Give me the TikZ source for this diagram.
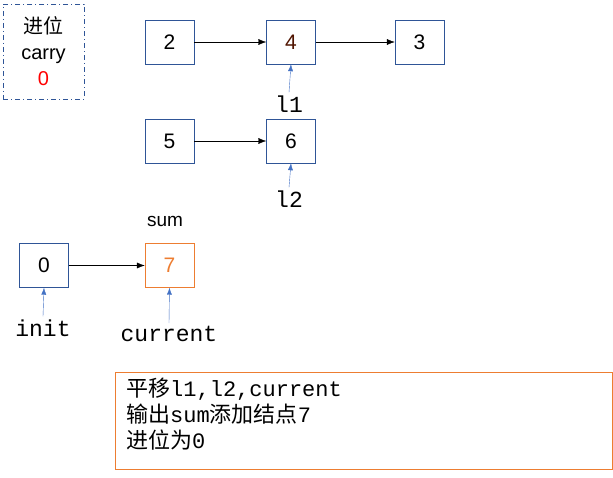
\documentclass[tikz,border=0pt]{standalone}
\usepackage{fontspec}
\setmainfont{Liberation Sans}
\newfontfamily\cjk{Noto Sans CJK SC}
\newfontfamily\mono{Liberation Mono}
\usetikzlibrary{arrows.meta}
\definecolor{bx}{HTML}{2F5597}
\definecolor{orng}{HTML}{ED7D31}
\definecolor{ptr}{HTML}{4472C4}
\begin{document}
\begin{tikzpicture}[x=1pt,y=-1pt,
 box/.style={draw=bx,minimum width=49pt,minimum height=44pt,inner sep=0pt,font=\fontsize{21}{21}\selectfont},
 lnk/.style={-{Latex[length=8pt,width=6pt]},black},
 pt/.style={-{Latex[length=7pt,width=5pt]},ptr},
 lbl/.style={font=\mono\fontsize{23}{23}\selectfont,inner sep=0pt}]
\useasboundingbox (0,0) rectangle (613,478);
\node[draw=bx,dash pattern=on 5pt off 3pt on 1pt off 3pt,minimum width=81pt,minimum height=95pt,inner sep=0pt,align=center,font=\fontsize{20}{26}\selectfont] (c) at (43.5,51.5) {{\cjk 进位}\\carry\\\textcolor{red}{0}};
\node[box] (n2) at (169.5,42) {2};
\node[box,text={rgb,255:red,80;green,20;blue,0}] (n4) at (291,42) {4};
\node[box] (n3) at (419.5,42) {3};
\node[box] (n5) at (169.5,141) {5};
\node[box] (n6) at (291,141) {6};
\node[box] (n0) at (44,265.5) {0};
\node[box,draw=orng,text=orng] (n7) at (169.5,265.5) {7};
\draw[lnk] (n2) -- (n4);
\draw[lnk] (n4) -- (n3);
\draw[lnk] (n5) -- (n6);
\draw[lnk] (n0) -- (n7);
\node[lbl] (l1) at (289,104) {l1};
\node[lbl] (l2) at (289,199) {l2};
\node[lbl] (ini) at (43,328) {init};
\node[lbl] (cur) at (169,334) {current};
\node[font=\fontsize{19}{19}\selectfont,inner sep=0pt] (sum) at (165,221) {sum};
\draw[pt] (l1.north) ++(0,-3) coordinate (a1) (a1) -- (n4.south);
\draw[pt] (l2.north) ++(0,-3) coordinate (a2) (a2) -- (n6.south);
\draw[pt] (ini.north) ++(0,-3) coordinate (a3) (a3) -- (n0.south);
\draw[pt] (cur.north) ++(0,-3) coordinate (a4) (a4) -- (n7.south);
\node[draw=orng,minimum width=497pt,minimum height=97pt,inner sep=0pt] (t) at (363.5,420.5) {};
\node[anchor=north west,align=left,inner sep=0pt,font=\fontsize{22}{26}\selectfont] (tt) at (126,378) {{\cjk 平移}{\mono l1,l2,current}\\{\cjk 输出}{\mono sum}{\cjk 添加结点}{\mono 7}\\{\cjk 进位为}{\mono 0}};
\end{tikzpicture}
\end{document}
